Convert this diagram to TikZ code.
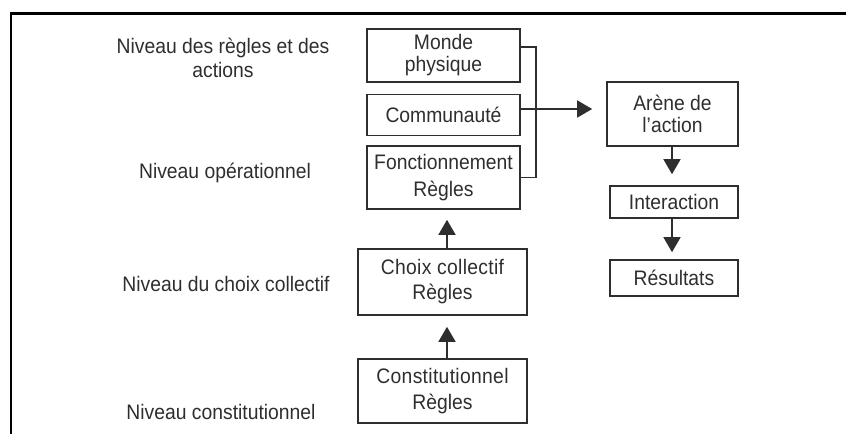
\documentclass[tikz,border=0pt]{standalone}
\usepackage{fontspec}
\setmainfont{Liberation Sans}
\newfontfamily\narrowsans[FakeStretch=0.92]{Liberation Sans}
\usetikzlibrary{arrows.meta}
\definecolor{ink}{HTML}{2E2E2E}
\tikzset{
  box/.style={draw=ink, line width=1.6pt, inner sep=0pt, align=center,
    text=ink, font=\narrowsans\fontsize{21}{22}\selectfont},
  lvl/.style={align=center, text=ink, font=\narrowsans\fontsize{21}{24}\selectfont},
  link/.style={draw=ink, line width=1.5pt},
  arr/.style={link, -{Triangle[length=15pt,width=17pt]}},
}
\begin{document}
\begin{tikzpicture}[x=1pt,y=-1pt]
\useasboundingbox (0,0) rectangle (846,434);
% frame
\draw[line width=3pt] (11,13) -- (846,13);
\draw[line width=2pt] (11,434) -- (11,12);

% level labels
\node[lvl] (l1) at (223,58) {Niveau des règles et des\\actions};
\node[lvl] (l2) at (225,173) {Niveau opérationnel};
\node[lvl] (l3) at (226,284) {Niveau du choix collectif};
\node[lvl] (l4) at (221,412) {Niveau constitutionnel};

% operational boxes
\node[box, minimum width=153, minimum height=53] (monde) at (443.5,55.5) {Monde\\physique};
\node[box, minimum width=153, minimum height=41] (comm) at (443.5,115) {\raisebox{-2pt}{Communauté}};
\node[box, minimum width=153, minimum height=63, font=\narrowsans\fontsize{21}{27}\selectfont] (fonct) at (443.5,177.5) {Fonctionnement\\Règles};

% action side
\node[box, minimum width=131, minimum height=64] (arene) at (672.5,114) {Arène de\\l’action};
\node[box, minimum width=128, minimum height=32] (inter) at (674,202) {Interaction};
\node[box, minimum width=128, minimum height=36] (res) at (674,278) {Résultats};

% rule levels
\node[box, minimum width=169, minimum height=66, font=\narrowsans\fontsize{21}{25}\selectfont] (choix) at (442.5,282) {\addfontfeature{LetterSpace=1.5}Choix collectif\\Règles};
\node[box, minimum width=169, minimum height=64, font=\narrowsans\fontsize{21}{26}\selectfont] (const) at (442.5,391) {\addfontfeature{LetterSpace=1.5}Constitutionnel\\Règles};

% bracket joining the three operational boxes
\coordinate (ba) at ([yshift=8.5pt]monde.east);
\coordinate (bb) at ([xshift=15pt]ba);
\coordinate (bc) at (fonct.east -| bb);
\draw[link] (ba) -- (bb) -- (bc) -- (fonct.east);
\coordinate (cj) at ([yshift=6pt]comm.east);
\draw[arr, shorten >=14pt] (cj) -- (cj -| arene.west);

% vertical flows
\draw[arr, shorten >=11pt] (arene.south -| 672,0) -- (inter.north -| 672,0);
\draw[arr, shorten >=7pt] (inter.south -| 672,0) -- (res.north -| 672,0);
\draw[arr, shorten >=10pt] (choix.north -| 447,0) -- (fonct.south -| 447,0);
\draw[arr, shorten >=11pt] (const.north -| 447,0) -- (choix.south -| 447,0);
\end{tikzpicture}
\end{document}
